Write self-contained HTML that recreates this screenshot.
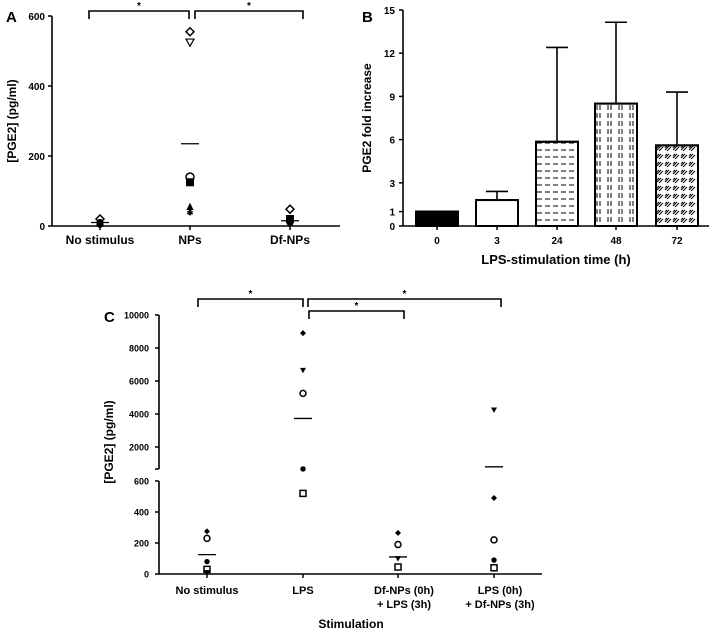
<!DOCTYPE html>
<html><head><meta charset="utf-8"><style>
html,body{margin:0;padding:0;background:#fff}
svg{display:block;font-family:"Liberation Sans",Arial,sans-serif;font-weight:bold}
</style></head><body>
<svg id="fig" width="709" height="631" viewBox="0 0 709 631" xmlns="http://www.w3.org/2000/svg">
<g id="A"></g>
<g id="B"></g>
<g id="C"></g>
<defs>
<pattern id="pH" width="8" height="7" patternUnits="userSpaceOnUse"><line x1="1" y1="3" x2="6" y2="3" stroke="#000" stroke-width="1"/></pattern>
<pattern id="pV" width="11" height="8" patternUnits="userSpaceOnUse"><line x1="3" y1="1" x2="3" y2="6" stroke="#000" stroke-width="1"/><line x1="6" y1="1" x2="6" y2="6" stroke="#000" stroke-width="1"/></pattern>
<pattern id="pD" width="8" height="8" patternUnits="userSpaceOnUse"><path d="M1 6L5 2M3 7L7 3M1 4L3 2" stroke="#000" stroke-width="1"/></pattern>
</defs>
</svg>
<script>
// ---- Panel A data ----
const aCategories = ["No stimulus","NPs","Df-NPs"];
const aValues = [[20,10,5],[555,525,140,125,55,40],[48,20,10]];
const aShapes = [["diamond","filled","filled"],["diamond","tri-open","circle","square-filled","tri-up","star"],["diamond","square-filled","filled"]];
const aMeans = [10,235,15];
const aTicks = [0,200,400,600];
// ---- Panel B data ----
const bCategories = ["0","3","24","48","72"];
const bValues = [1,1.8,5.85,8.5,5.6];
const bErrors = [0,0.6,6.55,5.65,3.7];
const bTicks = [0,1,3,6,9,12,15];
// ---- Panel C data ----
const cCategories = [["No stimulus"],["LPS"],["Df-NPs (0h)","+ LPS (3h)"],["LPS (0h)","+ Df-NPs (3h)"]];
const cValues = [[275,230,80,30,10],[8900,6650,5250,670,520],[265,190,100,50,45],[4250,490,220,90,40]];
const cShapes = [["diamond-f","circle","filled","square","tri-filled"],["diamond-f","tri-filled","circle","filled","square"],["diamond-f","circle","tri-filled","filled","square"],["tri-filled","diamond-f","circle","filled","square"]];
const cMeans = [125,3730,110,800];
const cTicksLow = [0,200,400,600];
const cTicksHigh = [2000,4000,6000,8000,10000];

const NS="http://www.w3.org/2000/svg";
function mk(parent,tag,attrs,text){const e=document.createElementNS(NS,tag);for(const k in attrs)e.setAttribute(k,attrs[k]);if(text!==undefined)e.textContent=text;parent.appendChild(e);return e;}
function marker(g,shape,x,y,s){
  let e;
  if(shape==="diamond"){e=mk(g,"path",{d:`M${x} ${y-s}L${x+s} ${y}L${x} ${y+s}L${x-s} ${y}Z`,fill:"#fff",stroke:"#000","stroke-width":1.5});}
  else if(shape==="diamond-f"){e=mk(g,"path",{d:`M${x} ${y-s}L${x+s} ${y}L${x} ${y+s}L${x-s} ${y}Z`,fill:"#000"});}
  else if(shape==="tri-open"){e=mk(g,"path",{d:`M${x-s} ${y-s*0.8}L${x+s} ${y-s*0.8}L${x} ${y+s}Z`,fill:"#fff",stroke:"#000","stroke-width":1.2});}
  else if(shape==="tri-filled"){e=mk(g,"path",{d:`M${x-s} ${y-s*0.8}L${x+s} ${y-s*0.8}L${x} ${y+s}Z`,fill:"#000"});}
  else if(shape==="tri-up"){e=mk(g,"path",{d:`M${x} ${y-s}L${x+s*0.9} ${y+s*0.8}L${x-s*0.9} ${y+s*0.8}Z`,fill:"#000"});}
  else if(shape==="circle"){e=mk(g,"circle",{cx:x,cy:y,r:s,fill:"#fff",stroke:"#000","stroke-width":1.5});}
  else if(shape==="filled"){e=mk(g,"circle",{cx:x,cy:y,r:s*0.9,fill:"#000"});}
  else if(shape==="square"){e=mk(g,"rect",{x:x-s,y:y-s,width:2*s,height:2*s,fill:"#fff",stroke:"#000","stroke-width":1.5});}
  else if(shape==="square-filled"){e=mk(g,"rect",{x:x-s,y:y-s,width:2*s,height:2*s,fill:"#000"});}
  else {e=mk(g,"path",{d:`M${x} ${y-s}L${x+s*0.8} ${y+s*0.6}L${x-s*0.8} ${y+s*0.6}Z M${x-s*0.8} ${y-s*0.2}L${x+s*0.8} ${y-s*0.2}L${x} ${y+s}Z`,fill:"#000"});}
  return e;
}
function bracket(g,x1,x2,y){
  const p=mk(g,"path",{d:`M${x1} ${y+8}V${y}H${x2}V${y+8}`,fill:"none",stroke:"#000","stroke-width":1.6});
  
  
  const t=mk(g,"text",{x:(x1+x2)/2,y:y-2,"text-anchor":"middle","font-size":10},"*");
  
  
}

// ===== Panel A =====
(function(){
  const g=document.getElementById("A");
  const X0=52,Xend=340,Y0=226,Ytop=16;
  const y=v=>Y0-(v/600)*(Y0-Ytop);
  const xs=[100,190,290];
  const letter=mk(g,"text",{x:6,y:22,"font-size":15},"A");
  
  mk(g,"line",{x1:X0,y1:Ytop,x2:X0,y2:Y0,stroke:"#000","stroke-width":1.6});
  mk(g,"line",{x1:X0,y1:Y0,x2:Xend,y2:Y0,stroke:"#000","stroke-width":1.6});
  aTicks.forEach(v=>{mk(g,"line",{x1:X0-4,y1:y(v),x2:X0,y2:y(v),stroke:"#000","stroke-width":1.5});
    const t=mk(g,"text",{x:X0-7,y:y(v)+4,"text-anchor":"end","font-size":10},String(v));
    });
  const yt=mk(g,"text",{transform:`translate(16,121) rotate(-90)`,"text-anchor":"middle","font-size":12},"[PGE2] (pg/ml)");
  
  aCategories.forEach((c,i)=>{
    mk(g,"line",{x1:xs[i],y1:Y0,x2:xs[i],y2:Y0+4,stroke:"#000","stroke-width":1.5});
    const t=mk(g,"text",{x:xs[i],y:244,"text-anchor":"middle","font-size":12},c);
    
    aValues[i].forEach((v,j)=>{const m=marker(g,aShapes[i][j],xs[i],y(v),4);
      });
    const ml=mk(g,"line",{x1:xs[i]-9,y1:y(aMeans[i]),x2:xs[i]+9,y2:y(aMeans[i]),stroke:"#000","stroke-width":1.3});
    
  });
  bracket(g,89,189,11);bracket(g,195,303,11);
})();

// ===== Panel B =====
(function(){
  const g=document.getElementById("B");
  const X0=403,Xend=709,Y0=226,Ytop=10;
  const y=v=>Y0-(v/15)*(Y0-Ytop);
  const xs=[437,497,557,616,677];const bw=42;
  const fills=["#000","#fff","url(#pH)","url(#pV)","url(#pD)"];
  const letter=mk(g,"text",{x:362,y:22,"font-size":15},"B");
  
  mk(g,"line",{x1:X0,y1:Ytop,x2:X0,y2:Y0,stroke:"#000","stroke-width":1.6});
  mk(g,"line",{x1:X0,y1:Y0,x2:Xend,y2:Y0,stroke:"#000","stroke-width":1.6});
  bTicks.forEach(v=>{mk(g,"line",{x1:X0-4,y1:y(v),x2:X0,y2:y(v),stroke:"#000","stroke-width":1.5});
    const t=mk(g,"text",{x:X0-8,y:y(v)+4,"text-anchor":"end","font-size":10},String(v));
    });
  const yt=mk(g,"text",{transform:`translate(371,118) rotate(-90)`,"text-anchor":"middle","font-size":12},"PGE2 fold increase");
  
  bCategories.forEach((c,i)=>{
    const top=bValues[i]+bErrors[i];
    if(bErrors[i]>0){const e=mk(g,"path",{d:`M${xs[i]} ${y(bValues[i])}V${y(top)}M${xs[i]-11} ${y(top)}H${xs[i]+11}`,stroke:"#000","stroke-width":1.6,fill:"none"});
      }
    const r=mk(g,"rect",{x:xs[i]-bw/2,y:y(bValues[i]),width:bw,height:Y0-y(bValues[i]),fill:"#fff",stroke:"#000","stroke-width":2});
    
    mk(g,"rect",{x:xs[i]-bw/2,y:y(bValues[i]),width:bw,height:Y0-y(bValues[i]),fill:fills[i],stroke:"#000","stroke-width":2});
    mk(g,"line",{x1:xs[i],y1:Y0,x2:xs[i],y2:Y0+4,stroke:"#000","stroke-width":1.5});
    const t=mk(g,"text",{x:xs[i],y:244,"text-anchor":"middle","font-size":10},c);
    
  });
  const xt=mk(g,"text",{x:556,y:264,"text-anchor":"middle","font-size":13},"LPS-stimulation time (h)");
  
})();

// ===== Panel C =====
(function(){
  const g=document.getElementById("C");
  const X0=159,Xend=542,Y0=574,YlowTop=481,YhighZero=480,Yh2000=447;
  const y=v=>v<=600?Y0-(v/600)*(Y0-YlowTop):YhighZero-(v/2000)*(YhighZero-Yh2000);
  const xs=[207,303,398,494];
  const letter=mk(g,"text",{x:104,y:322,"font-size":15},"C");
  
  mk(g,"line",{x1:X0,y1:y(10000),x2:X0,y2:469,stroke:"#000","stroke-width":1.6});
  mk(g,"line",{x1:X0-4,y1:469,x2:X0,y2:469,stroke:"#000","stroke-width":1.5});
  mk(g,"line",{x1:X0,y1:YlowTop,x2:X0,y2:Y0,stroke:"#000","stroke-width":1.6});
  mk(g,"line",{x1:X0,y1:Y0,x2:Xend,y2:Y0,stroke:"#000","stroke-width":1.6});
  cTicksLow.concat(cTicksHigh).forEach(v=>{mk(g,"line",{x1:X0-4,y1:y(v),x2:X0,y2:y(v),stroke:"#000","stroke-width":1.5});
    const t=mk(g,"text",{x:X0-10,y:y(v)+3.5,"text-anchor":"end","font-size":9},String(v));
    });
  const yt=mk(g,"text",{transform:`translate(113,442) rotate(-90)`,"text-anchor":"middle","font-size":12},"[PGE2] (pg/ml)");
  
  cCategories.forEach((c,i)=>{
    mk(g,"line",{x1:xs[i],y1:Y0,x2:xs[i],y2:Y0+4,stroke:"#000","stroke-width":1.5});
    c.forEach((line,k)=>{const t=mk(g,"text",{x:xs[i]+(c.length>1?6:0),y:594+k*14,"text-anchor":"middle","font-size":11},line);
      });
    cValues[i].forEach((v,j)=>{const m=marker(g,cShapes[i][j],xs[i],y(v),3);
      });
    const ml=mk(g,"line",{x1:xs[i]-9,y1:y(cMeans[i]),x2:xs[i]+9,y2:y(cMeans[i]),stroke:"#000","stroke-width":1.3});
    
  });
  const xt=mk(g,"text",{x:351,y:628,"text-anchor":"middle","font-size":12},"Stimulation");
  
  bracket(g,198,303,299);bracket(g,308,501,299);bracket(g,309,404,311);
})();
</script>
</body></html>
